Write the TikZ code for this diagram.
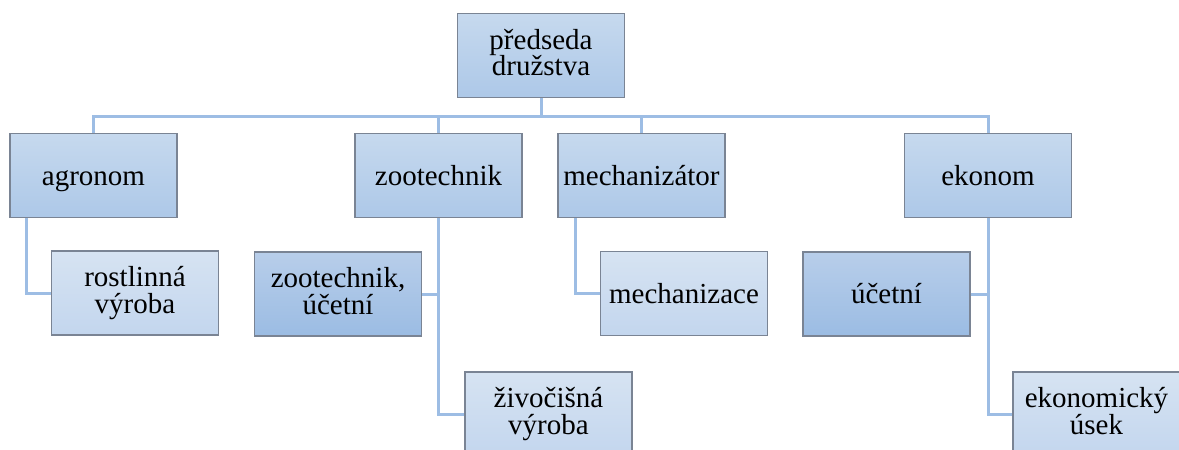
\documentclass[tikz,border=0pt]{standalone}
\usepackage{fontspec}
\setmainfont{Liberation Serif}
\newfontfamily\orgfont{Liberation Serif}
\usepackage{tikz}

\definecolor{boxtop}{HTML}{C6D9EE}
\definecolor{boxbot}{HTML}{ADC8E8}
\definecolor{lighttop}{HTML}{D6E3F2}
\definecolor{lightbot}{HTML}{C3D6EE}
\definecolor{darktop}{HTML}{B8CEEA}
\definecolor{darkbot}{HTML}{9BBCE3}
\definecolor{boxline}{HTML}{7A8494}
\definecolor{linkblue}{HTML}{9DBDE4}

\newcommand{\orgsize}{\orgfont\fontsize{14.5}{13.2}\selectfont\lineskiplimit=-20pt\relax}

\tikzset{
    unit/.style = {draw = boxline, line width = 0.6pt, top color = boxtop, bottom color = boxbot,
        minimum width = 83.5pt, minimum height = 42pt, inner sep = 0pt, align = center,
        font = \orgsize,
        execute at begin node = {\rule{0pt}{0.891em}},
        execute at end node = {\rule[-0.216em]{0pt}{0pt}}},
    helper/.style = {unit, top color = lighttop, bottom color = lightbot},
    helperdark/.style = {unit, top color = darktop, bottom color = darkbot},
    link/.style = {draw = linkblue, line width = 1.5pt}
}

\begin{document}
\begin{tikzpicture}[x = 0.5pt, y = -0.5pt]
        \clip (0,0) rectangle (1179,450);
        \useasboundingbox (0,0) rectangle (1179,450);
        \node (predseda)[unit] at ( 541,55.5) {předseda\\družstva};
        \node (agronom)[unit] at ( 93.5,175.5) {agronom};
        \node (zootech)[unit] at ( 438.5,175.5) {zootechnik};
        \node (mechanizator)[unit] at ( 641.5,175.5) {mechanizátor};
        \node (ekonom)[unit] at ( 988,175.5) {ekonom};

        \node (rostlinna)[helper] at ( 135,293) {rostlinná\\výroba};
        \node (zoo_ucet)[helperdark] at ( 338,294) {zootechnik,\\účetní};
        \node (zivocisna)[helper] at ( 548.5,414) {živočišná\\výroba};
        \node (mechanizace)[helper] at ( 684,293.5) {mechanizace};
        \node (ucetni)[helperdark] at ( 886.5,294) {účetní};
        \node (eko_usek)[helper] at ( 1096.5,414) {ekonomický\\úsek};

        % tree lines
        \path[link] (predseda.south) -- ++(0,18) -| (agronom.north);
        \path[link] (predseda.south) -- ++(0,18) -| (zootech.north);
        \path[link] (predseda.south) -- ++(0,18) -| (mechanizator.north);
        \path[link] (predseda.south) -- ++(0,18) -| (ekonom.north);
        % helpers
        \path[link] (agronom.south west) ++(17,0) |- (rostlinna.west);
        \path[link] (mechanizator.south west) ++(18,0) |- (mechanizace.west);
        \path[link] (zootech.south) |- (zivocisna.west);
        \path[link] (zoo_ucet.east) -- (zoo_ucet.east -| zootech.south);
        \path[link] (ekonom.south) |- (eko_usek.west);
        \path[link] (ucetni.east) -- (ucetni.east -| ekonom.south);
\end{tikzpicture}
\end{document}
